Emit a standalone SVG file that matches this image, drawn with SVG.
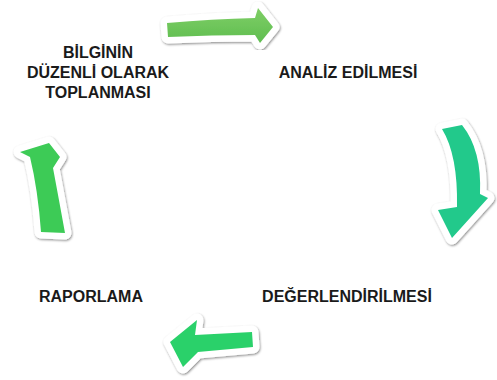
<svg xmlns="http://www.w3.org/2000/svg" width="497" height="380" viewBox="0 0 497 380">
  <defs>
    <filter id="sh" x="-20%" y="-20%" width="140%" height="140%">
      <feDropShadow dx="0.8" dy="1.2" stdDeviation="1.2" flood-color="#000" flood-opacity="0.45"/>
    </filter>
    <linearGradient id="gTop" x1="0" y1="0" x2="0" y2="1">
      <stop offset="0" stop-color="#7fcf66"/>
      <stop offset="1" stop-color="#5fbd50"/>
    </linearGradient>
  </defs>
  <style>
    .lbl { font-family: "Liberation Sans", Arial, sans-serif; font-weight: bold; font-size: 16px; fill: #1a1a1a; text-anchor: middle; }
    .arr { stroke: #ffffff; stroke-width: 13; stroke-linejoin: round; paint-order: stroke fill; filter: url(#sh); }
  </style>
  <rect width="497" height="380" fill="#ffffff"/>

  <g id="connectors">
    <path class="arr" fill="url(#gTop)" d="M167,23 Q212,19 255,18 L258,8 L273,27 L260,43 L255,35 Q212,35 168,37 Z"/>
    <path class="arr" fill="#20c98b" d="M442,129 Q458,155 457,207 L438,210 L452,238 L488,198 L480,194 Q482,150 462,125 Z"/>
    <path class="arr" fill="#2bd16b" d="M170,342 L197,320 L195,335 L252,332 L253,347 L198,352 L183,367 Z"/>
    <path class="arr" fill="#3ccb57" d="M20,152 L49,143 L60,157 L53,168 Q59,200 65,233 L41,232 Q38,190 30,157 Z"/>
  </g>

  <g id="node-toplama">
    <text class="lbl" x="98" y="58">BİLGİNİN</text>
    <text class="lbl" x="98" y="78">DÜZENLİ OLARAK</text>
    <text class="lbl" x="98" y="98">TOPLANMASI</text>
  </g>
  <g id="node-analiz">
    <text class="lbl" x="348" y="78">ANALİZ EDİLMESİ</text>
  </g>
  <g id="node-degerlendirme">
    <text class="lbl" x="347" y="302">DEĞERLENDİRİLMESİ</text>
  </g>
  <g id="node-raporlama">
    <text class="lbl" x="91" y="302">RAPORLAMA</text>
  </g>
</svg>
